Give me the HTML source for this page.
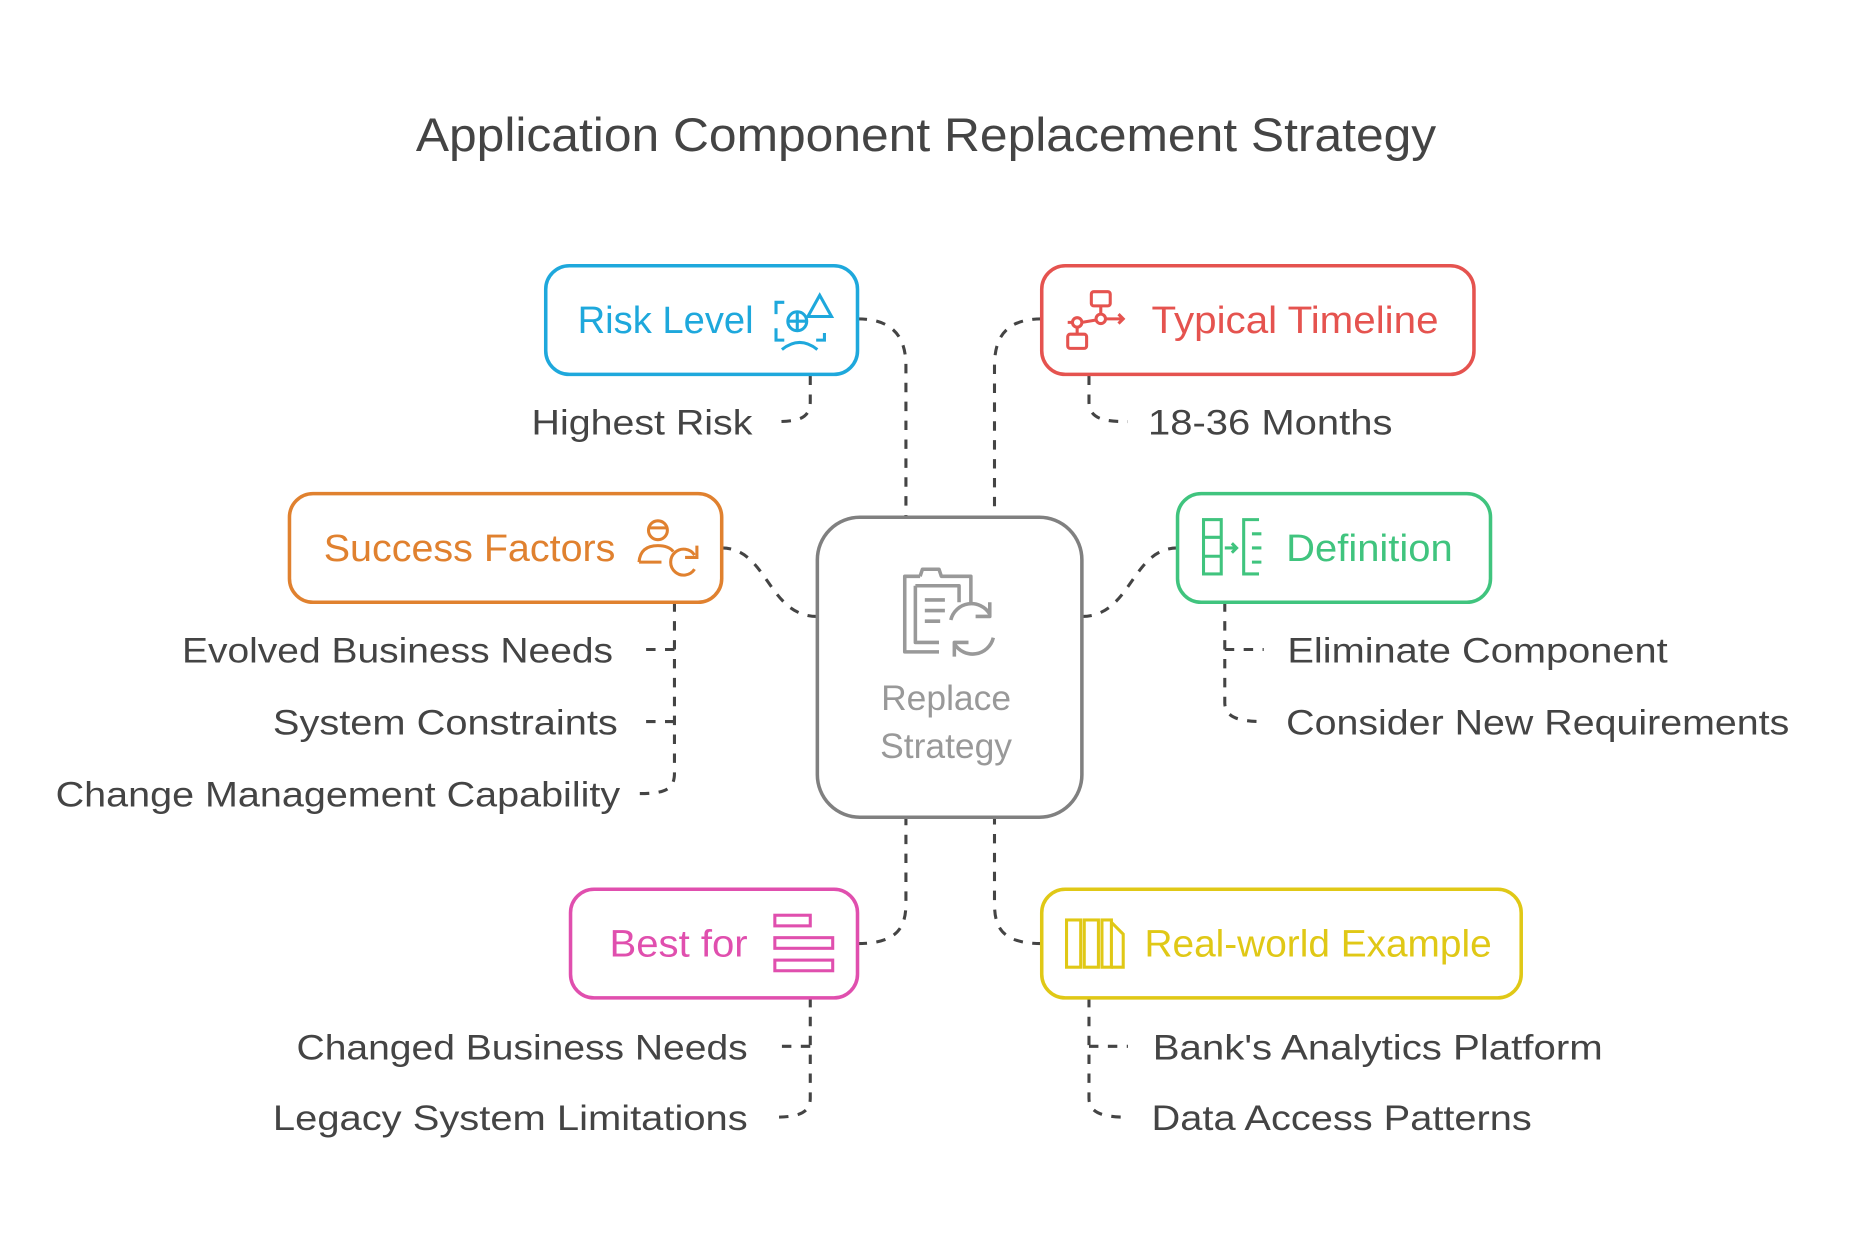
<!DOCTYPE html>
<html><head><meta charset="utf-8"><style>
html,body{margin:0;padding:0;background:#fff;width:1852px;height:1240px;overflow:hidden}
svg{display:block}
text{font-family:"Liberation Sans",sans-serif}
</style></head><body>
<svg width="1852" height="1240" viewBox="0 0 1568 1050" xmlns="http://www.w3.org/2000/svg">
<rect width="1568" height="1050" fill="#fff"/>
<text x="784" y="128" text-anchor="middle" font-size="40" fill="#444" textLength="864" lengthAdjust="spacingAndGlyphs">Application Component Replacement Strategy</text>

<g fill="none" stroke="#444" stroke-width="2.6" stroke-dasharray="8 8">
<!-- main connectors -->
<path d="M726 270 C760 270 767 290 767 310 L767 438"/>
<path d="M882 270 C848 270 842 290 842 310 L842 438"/>
<path d="M611 464 C650 464 650 522 692 522"/>
<path d="M997 464 C958 464 958 522 916 522"/>
<path d="M726 799 C760 799 767 785 767 765 L767 692"/>
<path d="M882 799 C848 799 842 785 842 765 L842 692"/>
<!-- sub connectors -->
<path d="M686 318 L686 340 C686 355 675 357 655 357"/>
<path d="M922 318 L922 340 C922 355 935 357 955 357"/>
<path d="M571 510 L571 655 C571 670 560 672 540 672"/>
<path d="M571 550 L540 550"/><path d="M571 611 L540 611"/>
<path d="M1037 510 L1037 595 C1037 608 1050 611 1070 611"/>
<path d="M1037 550 L1070 550"/>
<path d="M686 845 L686 930 C686 943 675 946 655 946"/>
<path d="M686 886 L655 886"/>
<path d="M922 845 L922 930 C922 943 935 946 955 946"/>
<path d="M922 886 L955 886"/>
</g>

<!-- center -->
<rect x="692" y="438" width="224" height="254" rx="36" fill="#fff" stroke="#808080" stroke-width="3"/>
<g fill="none" stroke="#999" stroke-width="3" stroke-linejoin="round">
<path d="M779 488 L766 488 L766 552 L795 552"/>
<path d="M779 488 L781 482 L795 482 L797 488 L822 488 L822 510"/>
<path d="M775 496 L812 496 L812 510 M775 496 L775 544 L795 544"/>
<path d="M783 508 L800 508 M783 517 L800 517 M783 526 L796 526"/>
<path d="M805 525 A18 18 0 0 1 838 520 M838 510 L838 522 L826 522"/>
<path d="M841 540 A18 18 0 0 1 808 545 M808 556 L808 544 L820 544"/>
</g>
<text x="801" y="601" text-anchor="middle" font-size="30" fill="#999">Replace</text>
<text x="801" y="642" text-anchor="middle" font-size="30" fill="#999">Strategy</text>

<!-- boxes -->
<rect x="462" y="225" width="264" height="92" rx="20" fill="#fff" stroke="#1EA8DC" stroke-width="3"/>
<text x="489" y="282" font-size="32" fill="#1EA8DC" textLength="149" lengthAdjust="spacingAndGlyphs">Risk Level</text>
<g fill="none" stroke="#1EA8DC" stroke-width="2.6">
<path d="M664 256 L657 256 L657 266 M657 278 L657 288 L664 288 M698 282 L698 288 L691 288"/>
<circle cx="675" cy="272" r="8"/><path d="M675 264 L675 280 M667 272 L683 272"/>
<path d="M662 296 Q677 284 692 296"/>
<path d="M694 250 L684 268 L704 268 Z"/>
</g>

<rect x="882" y="225" width="366" height="92" rx="20" fill="#fff" stroke="#E5534F" stroke-width="3"/>
<text x="975" y="282" font-size="32" fill="#E5534F" textLength="243" lengthAdjust="spacingAndGlyphs">Typical Timeline</text>
<g fill="none" stroke="#E5534F" stroke-width="2.6">
<rect x="924" y="247" width="16" height="12" rx="2"/><rect x="904" y="283" width="16" height="12" rx="2"/>
<circle cx="912" cy="273" r="4"/><circle cx="932" cy="270" r="4"/>
<path d="M904 273 L908 273 M916 273 L928 271 M936 270 L951 270 M947 266 L951 270 L947 274 M932 259 L932 266 M912 277 L912 283"/>
</g>

<rect x="245" y="418" width="366" height="92" rx="20" fill="#fff" stroke="#E0812F" stroke-width="3"/>
<text x="274" y="475" font-size="32" fill="#E0812F" textLength="247" lengthAdjust="spacingAndGlyphs">Success Factors</text>
<g fill="none" stroke="#E0812F" stroke-width="2.6">
<circle cx="557" cy="449" r="8"/><path d="M549 447 L565 447"/>
<path d="M541 476 Q542 462 557 462 Q566 462 570 467 M541 476 L560 476"/>
<path d="M588 470 A11 11 0 1 0 588 482 M590 462 L590 472 L580 472"/>
</g>

<rect x="997" y="418" width="265" height="92" rx="20" fill="#fff" stroke="#40C47E" stroke-width="3"/>
<text x="1089" y="475" font-size="32" fill="#40C47E" textLength="141" lengthAdjust="spacingAndGlyphs">Definition</text>
<g fill="none" stroke="#40C47E" stroke-width="2.6">
<rect x="1019" y="440" width="15" height="46"/><path d="M1019 455 L1034 455 M1019 471 L1034 471"/>
<path d="M1037 464 L1047 464 M1043 460 L1047 464 L1043 468"/>
<path d="M1066 440 L1053 440 L1053 486 L1066 486 M1060 452 L1068 452 M1060 464 L1068 464 M1060 476 L1068 476"/>
</g>

<rect x="483" y="753" width="243" height="92" rx="20" fill="#fff" stroke="#E04FAE" stroke-width="3"/>
<text x="516" y="810" font-size="32" fill="#E04FAE" textLength="117" lengthAdjust="spacingAndGlyphs">Best for</text>
<g fill="none" stroke="#E04FAE" stroke-width="2.6">
<rect x="656" y="775" width="30" height="9"/><rect x="656" y="794" width="49" height="9"/><rect x="656" y="813" width="49" height="9"/>
</g>

<rect x="882" y="753" width="406" height="92" rx="20" fill="#fff" stroke="#E0C816" stroke-width="3"/>
<text x="969" y="810" font-size="32" fill="#E0C816" textLength="294" lengthAdjust="spacingAndGlyphs">Real-world Example</text>
<g fill="none" stroke="#E0C816" stroke-width="2.6">
<rect x="903" y="779" width="12" height="40"/><rect x="918" y="779" width="12" height="40"/><rect x="933" y="779" width="8" height="40"/>
<path d="M941 781 L951 791 L951 819 L941 819"/>
</g>

<!-- labels -->
<g font-size="30" fill="#444">
<text x="637" y="368" text-anchor="end" textLength="187" lengthAdjust="spacingAndGlyphs">Highest Risk</text>
<text x="972" y="368" textLength="207" lengthAdjust="spacingAndGlyphs">18-36 Months</text>
<text x="519" y="561" text-anchor="end" textLength="365" lengthAdjust="spacingAndGlyphs">Evolved Business Needs</text>
<text x="523" y="622" text-anchor="end" textLength="292" lengthAdjust="spacingAndGlyphs">System Constraints</text>
<text x="525" y="683" text-anchor="end" textLength="478" lengthAdjust="spacingAndGlyphs">Change Management Capability</text>
<text x="1090" y="561" textLength="322" lengthAdjust="spacingAndGlyphs">Eliminate Component</text>
<text x="1089" y="622" textLength="426" lengthAdjust="spacingAndGlyphs">Consider New Requirements</text>
<text x="633" y="897" text-anchor="end" textLength="382" lengthAdjust="spacingAndGlyphs">Changed Business Needs</text>
<text x="633" y="957" text-anchor="end" textLength="402" lengthAdjust="spacingAndGlyphs">Legacy System Limitations</text>
<text x="976" y="897" textLength="381" lengthAdjust="spacingAndGlyphs">Bank's Analytics Platform</text>
<text x="975" y="957" textLength="322" lengthAdjust="spacingAndGlyphs">Data Access Patterns</text>
</g>
</svg>
</body></html>
